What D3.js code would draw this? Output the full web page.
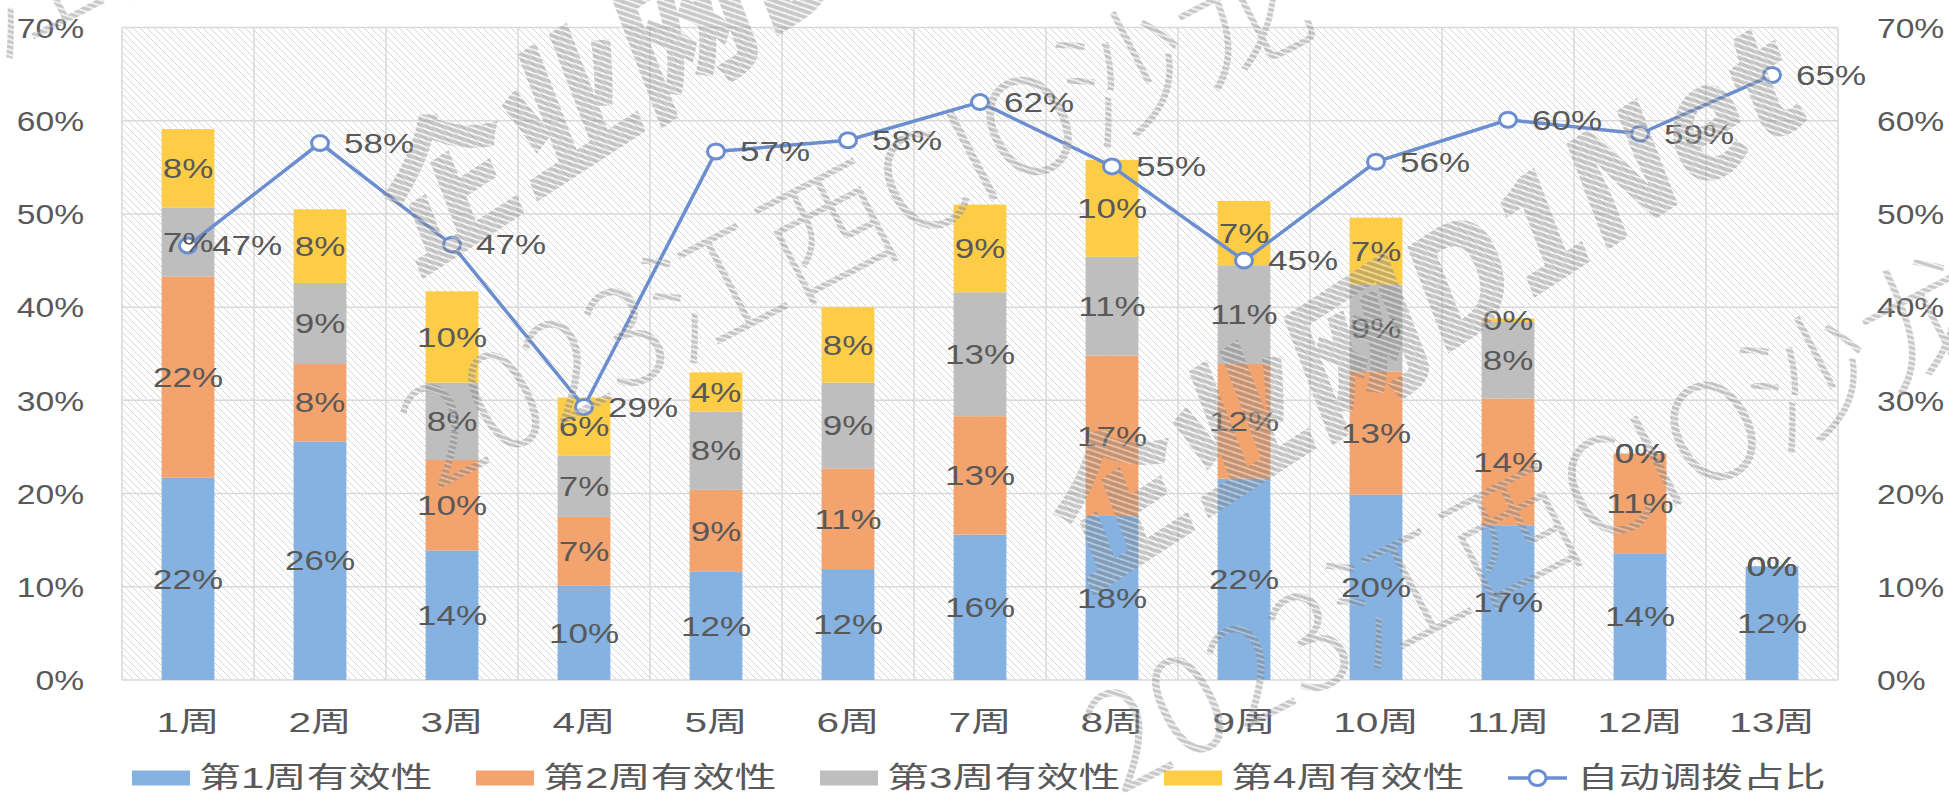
<!DOCTYPE html>
<html>
<head>
<meta charset="utf-8">
<script src="https://cdn.jsdelivr.net/npm/d3@7"></script>
<style>
  html, body { margin: 0; padding: 0; background: #fff; }
  svg { display: block; }
</style>
</head>
<body>
<div id="graph"></div>
<script>
const weeks = ['1周', '2周', '3周', '4周', '5周', '6周', '7周', '8周', '9周', '10周', '11周', '12周', '13周']
const seriesNames = ['第1周有效性', '第2周有效性', '第3周有效性', '第4周有效性']
const lineName = '自动调拨占比'

// stacked segments, percent
const week1 = [21.7, 25.6, 13.9, 10.1, 11.6, 11.9, 15.6, 17.6, 21.6, 19.9, 16.6, 13.6, 12.2]
const week2 = [21.6, 8.3, 9.7, 7.4, 8.8, 10.8, 12.7, 17.2, 12.3, 13.2, 13.6, 10.7, 0]
const week3 = [7.4, 8.7, 8.3, 6.6, 8.4, 9.2, 13.3, 10.6, 10.6, 9.3, 8.2, 0, 0]
const week4 = [8.4, 7.9, 9.8, 6.2, 4.2, 8.1, 9.4, 10.4, 6.9, 7.2, 0.4, 0, 0]
// line on secondary axis, percent
const autoRatio = [46.6, 57.6, 46.7, 29.3, 56.7, 57.9, 62.0, 55.1, 45.0, 55.6, 60.1, 58.6, 64.9]

const yTicks = [0, 10, 20, 30, 40, 50, 60, 70]
const colors = ['#85B2E1', '#F3A36D', '#BEBEBE', '#FDCD47']
const lineColor = '#6B8ED0'
const textColor = '#595959'
const fontFamily = '"Liberation Sans", "Noto Sans CJK SC", sans-serif'

const width = 1949, height = 796
const plot = { left: 122, right: 1838, top: 27.5, bottom: 680 }

const svg = d3.select('#graph').append('svg')
  .attr('width', width).attr('height', height)
  .style('font-family', fontFamily)

const defs = svg.append('defs')
defs.append('pattern')
  .attr('id', 'hatch').attr('patternUnits', 'userSpaceOnUse')
  .attr('width', 7).attr('height', 7)
  .append('path')
  .attr('d', 'M-1,-1 L8,8 M-1,6 L1,8 M6,-1 L8,1')
  .attr('stroke', '#d6d6d6').attr('stroke-width', 1)
const wm = defs.append('pattern')
  .attr('id', 'wmHatch').attr('patternUnits', 'userSpaceOnUse')
  .attr('width', 7).attr('height', 7)
wm.append('rect').attr('width', 7).attr('height', 7).attr('fill', '#7d7d7d')
wm.append('path')
  .attr('d', 'M-1,-1 L8,8 M-1,6 L1,8 M6,-1 L8,1')
  .attr('stroke', '#ffffff').attr('stroke-width', 1.4)

const x = d3.scaleBand().domain(weeks)
  .range([plot.left, plot.right])
  .paddingInner(0.6).paddingOuter(0.3)
const y = d3.scaleLinear().domain([0, 70]).range([plot.bottom, plot.top])
const y2 = d3.scaleLinear().domain([0, 70]).range([plot.bottom, plot.top])
const gap = (x.step() - x.bandwidth()) / 2

// plot background with diagonal hatch
svg.append('rect')
  .attr('x', plot.left).attr('y', plot.top)
  .attr('width', plot.right - plot.left).attr('height', plot.bottom - plot.top)
  .attr('fill', 'url(#hatch)')

// gridlines
svg.append('g').selectAll('line.h').data(yTicks).join('line')
  .attr('x1', plot.left).attr('x2', plot.right)
  .attr('y1', (d) => y(d)).attr('y2', (d) => y(d))
  .attr('stroke', '#d9d9d9').attr('stroke-width', 1.5)
svg.append('g').selectAll('line.v').data(weeks.concat(['end'])).join('line')
  .attr('x1', (d, i) => (i < weeks.length ? x(d) - gap : x(weeks[i - 1]) + x.bandwidth() + gap))
  .attr('x2', (d, i) => (i < weeks.length ? x(d) - gap : x(weeks[i - 1]) + x.bandwidth() + gap))
  .attr('y1', plot.top).attr('y2', plot.bottom)
  .attr('stroke', '#d9d9d9').attr('stroke-width', 1.5)

// axes
const fmt = (d) => `${d}%`
const leftAxis = svg.append('g')
  .attr('transform', `translate(${plot.left},0)`)
  .call(d3.axisLeft(y).tickValues(yTicks).tickFormat(fmt).tickSize(0))
const rightAxis = svg.append('g')
  .attr('transform', `translate(${plot.right},0)`)
  .call(d3.axisRight(y2).tickValues(yTicks).tickFormat(fmt).tickSize(0))
const bottomAxis = svg.append('g')
  .attr('transform', `translate(0,${plot.bottom})`)
  .call(d3.axisBottom(x).tickSize(0))

;[leftAxis, rightAxis, bottomAxis].forEach((g) => {
  g.select('.domain').remove()
  g.attr('font-family', fontFamily).attr('font-size', 28)
  g.selectAll('text').attr('fill', textColor)
})
leftAxis.selectAll('text').attr('x', null).attr('dy', '0.35em')
  .attr('transform', 'translate(-38,0) scale(1.2,1)')
rightAxis.selectAll('text').attr('x', null).attr('dy', '0.35em')
  .attr('transform', 'translate(39,0) scale(1.2,1)')
bottomAxis.selectAll('text').attr('y', 0).attr('dy', '0.35em')
  .attr('transform', 'translate(0,42) scale(1.45,1)')

// stacked bars
const keys = ['w1', 'w2', 'w3', 'w4']
const table = weeks.map((w, i) => ({
  week: w, w1: week1[i], w2: week2[i], w3: week3[i], w4: week4[i],
}))
const stacked = d3.stack().keys(keys)(table)

const layers = svg.append('g').selectAll('g').data(stacked).join('g')
  .attr('fill', (d, i) => colors[i])
layers.selectAll('rect').data((d) => d).join('rect')
  .attr('x', (d) => x(d.data.week))
  .attr('y', (d) => y(d[1]))
  .attr('width', x.bandwidth())
  .attr('height', (d) => y(d[0]) - y(d[1]))

// line series
const linePts = weeks.map((w, i) => ({ week: w, value: autoRatio[i] }))
const cx = (d) => x(d.week) + x.bandwidth() / 2
svg.append('path').datum(linePts)
  .attr('fill', 'none').attr('stroke', lineColor).attr('stroke-width', 3.5)
  .attr('d', d3.line().x(cx).y((d) => y2(d.value)))
svg.append('g').selectAll('ellipse').data(linePts).join('ellipse')
  .attr('cx', cx).attr('cy', (d) => y2(d.value))
  .attr('rx', 8.5).attr('ry', 7.5)
  .attr('fill', '#fff').attr('stroke', lineColor).attr('stroke-width', 3)

// data labels for stacked segments
const segLabels = svg.append('g').attr('font-size', 28).attr('fill', textColor)
  .attr('text-anchor', 'middle')
stacked.forEach((layer) => {
  segLabels.selectAll(null).data(layer).join('text')
    .attr('transform', (d) => `translate(${x(d.data.week) + x.bandwidth() / 2},${(y(d[0]) + y(d[1])) / 2}) scale(1.25,1)`)
    .attr('dy', '0.35em')
    .text((d) => fmt(Math.round(d[1] - d[0])))
})

// data labels for line
svg.append('g').attr('font-size', 28).attr('fill', textColor)
  .selectAll('text').data(linePts).join('text')
  .attr('transform', (d) => `translate(${cx(d) + 24},${y2(d.value)}) scale(1.25,1)`)
  .attr('dy', '0.35em')
  .text((d) => fmt(Math.round(d.value)))

// legend
const legendY = 778
const legend = svg.append('g').attr('font-size', 29).attr('fill', textColor)
seriesNames.forEach((name, i) => {
  const lx = 132 + i * 344
  legend.append('rect')
    .attr('x', lx).attr('y', legendY - 7.5)
    .attr('width', 58).attr('height', 15).attr('fill', colors[i])
  legend.append('text')
    .attr('transform', `translate(${lx + 67},${legendY}) scale(1.45,1)`)
    .attr('dy', '0.36em').text(name)
})
const llx = 132 + 4 * 344
legend.append('line')
  .attr('x1', llx).attr('x2', llx + 59).attr('y1', legendY).attr('y2', legendY)
  .attr('stroke', lineColor).attr('stroke-width', 3.5)
legend.append('ellipse')
  .attr('cx', llx + 29.5).attr('cy', legendY).attr('rx', 8.5).attr('ry', 7.5)
  .attr('fill', '#fff').attr('stroke', lineColor).attr('stroke-width', 3)
legend.append('text')
  .attr('transform', `translate(${llx + 69},${legendY}) scale(1.43,1)`)
  .attr('dy', '0.36em').text(lineName)

// watermarks
const marks = svg.append('g').attr('pointer-events', 'none')
const logoText = '企业网D1Net'
const salonText = '2023江西CIO沙龙'
;[[410, 275], [1081, 592]].forEach(([px, py]) => {
  marks.append('text')
    .attr('transform', `translate(${px},${py}) rotate(-33) skewX(-12)`)
    .attr('font-family', '"Noto Sans CJK SC", sans-serif')
    .attr('font-weight', 900).attr('font-size', 150)
    .attr('textLength', 870).attr('lengthAdjust', 'spacingAndGlyphs')
    .attr('fill', 'url(#wmHatch)').attr('opacity', 0.42)
    .text(logoText)
})
;[[-249, 186], [435, 491], [1119, 796]].forEach(([px, py]) => {
  marks.append('text')
    .attr('transform', `translate(${px},${py}) rotate(-27.5)`)
    .attr('font-family', '"Noto Sans CJK SC", sans-serif')
    .attr('font-weight', 300).attr('font-size', 135)
    .attr('textLength', 1000).attr('lengthAdjust', 'spacingAndGlyphs')
    .attr('fill', 'url(#wmHatch)').attr('opacity', 0.42)
    .text(salonText)
})
</script>
</body>
</html>
